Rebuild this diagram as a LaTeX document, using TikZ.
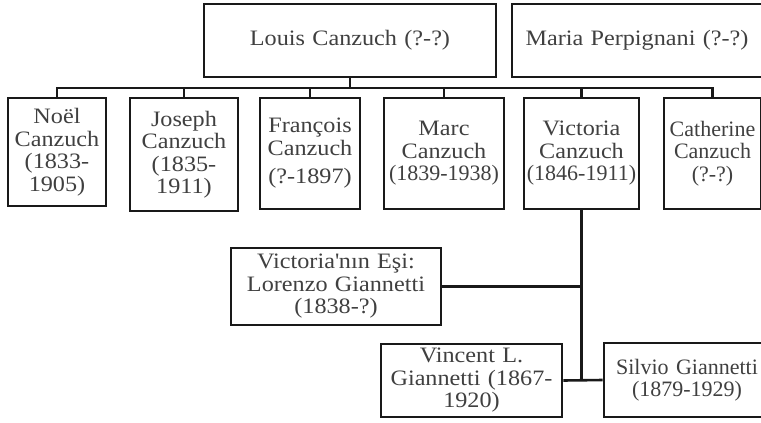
\documentclass[tikz,border=0pt]{standalone}
\usepackage{fontspec}
\setmainfont[FakeStretch=1.1]{Liberation Serif}
\newfontfamily\dar{Liberation Serif}
\begin{document}
\begin{tikzpicture}[x=1pt,y=-1pt,
  kutu/.style={draw=black!90,line width=2.6pt,fill=white,inner sep=0pt,align=center,text=black!75,font=\fontsize{22}{22.5}\selectfont,text width=#1,minimum width=#1},
  bag/.style={draw=black!90,line width=2.6pt}]
\useasboundingbox (0,0) rectangle (761,423);
\coordinate (bus) at (0,88);
\node[kutu=292,minimum height=73] (louis) at (350,40.5) {Louis Canzuch (?-?)};
\node[kutu=250,minimum height=73] (maria) at (637,40.5) {Maria Perpignani (?-?)};
\node[kutu=98,minimum height=108] (noel) at (57,152) {Noël\\Canzuch\\(1833-\\1905)};
\node[kutu=108,minimum height=113] (joseph) at (184,154.5) {Joseph\\Canzuch\\(1835-\\1911)};
\node[kutu=100,minimum height=111] (francois) at (310,153.5) {François\\Canzuch\\[6pt](?-1897)};
\node[kutu=120,minimum height=111] (marc) at (444,153.5) {Marc\\Canzuch\\\makebox[\linewidth]{\dar(1839-1938)}};
\node[kutu=115,minimum height=111] (victoria) at (581.5,153.5) {Victoria\\Canzuch\\\makebox[\linewidth]{\dar(1846-1911)}};
\node[kutu=97,minimum height=111] (catherine) at (712.5,153.5) {\dar Catherine\\Canzuch\\(?-?)};
\node[kutu=210,minimum height=77] (lorenzo) at (336,286.5) {Victoria\textquotesingle nın Eşi:\\Lorenzo Giannetti\\(1838-?)};
\node[kutu=181,minimum height=73] (vincent) at (471.5,380.5) {Vincent L.\\Giannetti (1867-\\1920)};
\node[kutu=166,minimum height=74] (silvio) at (687,380) {\dar Silvio Giannetti\\(1879-1929)};
\draw[bag] (louis.south) -- (louis.south |- bus);
\draw[bag] (noel.north) -- (noel.north |- bus) -- (catherine.north |- bus) -- (catherine.north);
\foreach \n in {joseph,francois,marc,victoria}
\draw[bag] (\n.north) -- (\n.north |- bus);
\draw[bag] (victoria.south) -- (victoria.south |- silvio.west);
\draw[bag] (lorenzo.east) -- (lorenzo.east -| victoria.south);
\draw[bag] (vincent.east) -- (silvio.west);
\end{tikzpicture}
\end{document}
